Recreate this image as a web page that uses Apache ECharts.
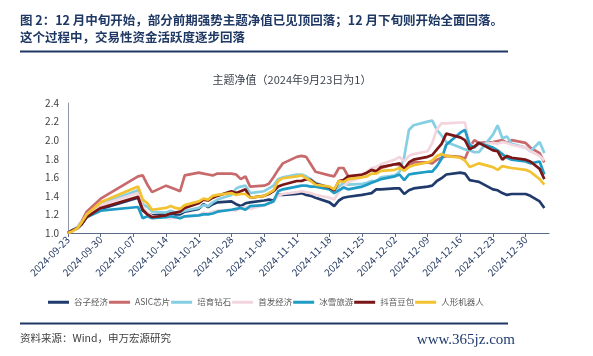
<!DOCTYPE html>
<html>
<head>
<meta charset="utf-8">
<script src="https://cdn.jsdelivr.net/npm/echarts@6/dist/echarts.min.js"></script>
<style>
html,body{margin:0;padding:0;background:#fff;}
#c{width:593px;height:356px;}
</style>
</head>
<body>
<div id="c"></div>
<script>
// ---- Data ----
const dates = [
'2024-09-23','2024-09-24','2024-09-25','2024-09-26','2024-09-27','2024-09-30',
'2024-10-08','2024-10-09','2024-10-10','2024-10-11','2024-10-14','2024-10-15','2024-10-16','2024-10-17','2024-10-18',
'2024-10-21','2024-10-22','2024-10-23','2024-10-24','2024-10-25','2024-10-28','2024-10-29','2024-10-30','2024-10-31','2024-11-01',
'2024-11-04','2024-11-05','2024-11-06','2024-11-07','2024-11-08','2024-11-11','2024-11-12','2024-11-13','2024-11-14','2024-11-15',
'2024-11-18','2024-11-19','2024-11-20','2024-11-21','2024-11-22','2024-11-25','2024-11-26','2024-11-27','2024-11-28','2024-11-29',
'2024-12-02','2024-12-03','2024-12-04','2024-12-05','2024-12-06','2024-12-09','2024-12-10','2024-12-11','2024-12-12','2024-12-13',
'2024-12-16','2024-12-17','2024-12-18','2024-12-19','2024-12-20','2024-12-23','2024-12-24','2024-12-25','2024-12-26','2024-12-27',
'2024-12-30','2024-12-31','2025-01-02','2025-01-03'
];

const guzi = [1.00,1.03,1.05,1.10,1.18,1.26,
1.38,1.24,1.21,1.19,1.20,1.21,1.20,1.20,1.23,
1.26,1.31,1.28,1.31,1.33,1.34,1.31,1.29,1.32,1.33,
1.35,1.36,1.35,1.41,1.41,1.42,1.43,1.41,1.40,1.38,
1.33,1.29,1.35,1.38,1.39,1.41,1.42,1.43,1.47,1.47,
1.48,1.48,1.42,1.46,1.48,1.50,1.51,1.56,1.59,1.63,
1.65,1.64,1.57,1.56,1.55,1.47,1.46,1.43,1.41,1.42,
1.42,1.40,1.34,1.27];

const asic = [1.00,1.03,1.06,1.13,1.23,1.37,
1.61,1.62,1.52,1.44,1.51,1.49,1.47,1.45,1.62,
1.65,1.64,1.63,1.62,1.64,1.64,1.63,1.58,1.61,1.50,
1.51,1.53,1.60,1.68,1.75,1.82,1.83,1.82,1.74,1.66,
1.62,1.61,1.70,1.70,1.61,1.62,1.65,1.68,1.67,1.70,
1.74,1.73,1.68,1.72,1.76,1.76,1.75,1.79,1.81,1.83,
1.82,1.80,1.92,2.00,1.97,1.98,1.99,2.00,1.97,2.00,
1.97,1.92,1.86,1.76];

const zuanshi = [1.00,1.03,1.06,1.12,1.20,1.31,
1.46,1.31,1.28,1.23,1.22,1.24,1.22,1.22,1.24,
1.27,1.30,1.29,1.33,1.36,1.41,1.48,1.50,1.51,1.43,
1.45,1.48,1.51,1.58,1.60,1.63,1.63,1.61,1.58,1.54,
1.49,1.45,1.50,1.54,1.52,1.53,1.54,1.56,1.56,1.60,
1.62,1.66,1.82,2.11,2.16,2.20,2.21,2.11,2.05,1.98,
1.92,1.90,1.89,1.87,1.87,2.06,2.16,2.02,2.04,1.96,
1.92,1.88,1.98,1.86];

const shoufa = [1.00,1.02,1.05,1.11,1.19,1.30,
1.43,1.28,1.22,1.18,1.17,1.16,1.17,1.16,1.18,
1.19,1.22,1.21,1.23,1.24,1.25,1.24,1.27,1.28,1.26,
1.30,1.32,1.34,1.40,1.42,1.44,1.45,1.44,1.43,1.41,
1.38,1.36,1.44,1.50,1.55,1.60,1.66,1.70,1.71,1.74,
1.79,1.82,1.77,1.83,1.85,1.88,1.97,2.12,2.18,2.18,
2.19,2.19,1.96,1.93,1.95,1.97,1.96,1.98,1.97,1.95,
1.92,1.88,1.83,1.78];

const bingxue = [1.00,1.03,1.05,1.10,1.17,1.24,
1.28,1.16,1.18,1.16,1.17,1.18,1.17,1.16,1.18,
1.19,1.20,1.20,1.21,1.23,1.25,1.26,1.27,1.25,1.29,
1.30,1.32,1.34,1.45,1.47,1.50,1.51,1.51,1.50,1.50,
1.47,1.43,1.46,1.49,1.47,1.50,1.52,1.54,1.56,1.58,
1.61,1.63,1.57,1.63,1.64,1.66,1.66,1.72,1.80,1.95,
2.08,2.11,1.95,1.92,1.97,1.92,1.89,1.85,1.81,1.79,
1.77,1.75,1.77,1.63];

const douyin = [1.00,1.03,1.05,1.10,1.17,1.27,
1.39,1.25,1.20,1.17,1.19,1.21,1.22,1.23,1.27,
1.32,1.36,1.35,1.38,1.40,1.45,1.43,1.45,1.47,1.38,
1.40,1.42,1.45,1.50,1.52,1.56,1.56,1.58,1.57,1.53,
1.49,1.46,1.56,1.57,1.61,1.63,1.65,1.68,1.66,1.71,
1.74,1.75,1.69,1.76,1.79,1.82,1.84,1.90,1.96,2.07,
2.03,2.00,1.90,1.93,1.97,1.89,1.88,1.79,1.83,1.81,
1.79,1.77,1.69,1.58];

const jiqiren = [1.00,1.02,1.05,1.12,1.20,1.33,
1.50,1.36,1.32,1.25,1.27,1.29,1.27,1.26,1.30,
1.34,1.37,1.36,1.40,1.41,1.43,1.41,1.42,1.42,1.38,
1.40,1.43,1.46,1.56,1.59,1.61,1.62,1.59,1.56,1.52,
1.50,1.47,1.56,1.55,1.58,1.60,1.61,1.64,1.64,1.67,
1.68,1.70,1.67,1.71,1.73,1.76,1.78,1.83,1.85,1.83,
1.81,1.78,1.71,1.73,1.75,1.71,1.68,1.72,1.71,1.70,
1.68,1.66,1.58,1.52];

const seriesNames = ['谷子经济','ASIC芯片','培育钻石','首发经济','冰雪旅游','抖音豆包','人形机器人'];
const seriesColors = ['#1f3a6b','#c8696b','#86cfe3','#f3d5dd','#1f9cc6','#7a1616','#f2c230'];
const seriesValues = [guzi, asic, zuanshi, shoufa, bingxue, douyin, jiqiren];

const xTickLabels = ['2024-09-23','2024-09-30','2024-10-07','2024-10-14','2024-10-21','2024-10-28','2024-11-04',
'2024-11-11','2024-11-18','2024-11-25','2024-12-02','2024-12-09','2024-12-16','2024-12-23','2024-12-30'];
const yTickLabels = ['1.0','1.2','1.4','1.6','1.8','2.0','2.2','2.4'];

// ---- Helpers ----
function dayNum(s){const p=s.split('-').map(Number);return Date.UTC(p[0],p[1]-1,p[2])/86400000;}
const base = dayNum(xTickLabels[0]);
const xOff = dates.map(d => dayNum(d) - base);
const tickOffsets = xTickLabels.map(d => dayNum(d) - base);
const xMax = dayNum('2025-01-04') - base;

const chart = echarts.init(document.getElementById('c'), null, {renderer:'canvas'});
const navy = '#1f3864';

const option = {
  animation:false,
  backgroundColor:'#ffffff',
  grid:{left:68, right:44, top:103, bottom:123},
  legend:{
    data:seriesNames,
    left:43, top:293,
    icon:'rect', itemWidth:21, itemHeight:3, itemGap:1,
    textStyle:{fontSize:8.5, color:'#595959', fontFamily:'Noto Sans CJK SC'}
  },
  xAxis:{
    type:'value', min:0, max:xMax,
    axisLine:{show:true, lineStyle:{color:'#5b6a82', width:1}},
    axisTick:{show:true, length:4, lineStyle:{color:'#5b6a82'}, customValues:tickOffsets},
    axisLabel:{
      rotate:45, fontSize:10, color:'#2b3f66', margin:5, fontFamily:'Noto Sans CJK SC',
      customValues:tickOffsets,
      formatter:function(v){const i=tickOffsets.indexOf(Math.round(v));return i>=0?xTickLabels[i]:'';}
    },
    splitLine:{show:false}
  },
  yAxis:{
    type:'value', min:1.0, max:2.4, interval:0.2,
    axisLine:{show:true, lineStyle:{color:'#8c96a8', width:1}},
    axisTick:{show:false},
    axisLabel:{fontSize:10, color:'#404040', margin:9, fontFamily:'Noto Sans CJK SC',
      formatter:function(v){const i=Math.round((v-1.0)/0.2);return yTickLabels[i]!==undefined?yTickLabels[i]:'';}},
    splitLine:{show:false}
  },
  series: seriesNames.map((n,k)=>({
    name:n, type:'line', symbol:'none', showSymbol:false,
    lineStyle:{width:2.7, color:seriesColors[k]},
    itemStyle:{color:seriesColors[k]},
    data: seriesValues[k].map((v,i)=>[xOff[i], v])
  })),
  graphic:[
    {type:'text', left:20, top:14, style:{text:'图 2：12 月中旬开始，部分前期强势主题净值已见顶回落；12 月下旬则开始全面回落。', fill:navy, font:'bold 12.5px "Noto Sans CJK SC"'}},
    {type:'text', left:20, top:31, style:{text:'这个过程中，交易性资金活跃度逐步回落', fill:navy, font:'bold 12.5px "Noto Sans CJK SC"'}},
    {type:'line', shape:{x1:20, y1:51.5, x2:508, y2:51.5}, style:{stroke:navy, lineWidth:2}},
    {type:'text', x:292, y:80, style:{text:'主题净值（2024年9月23日为1）', fill:'#3a3f4a', font:'11px "Noto Sans CJK SC"', align:'center', verticalAlign:'middle'}},
    {type:'line', shape:{x1:20, y1:323.5, x2:508, y2:323.5}, style:{stroke:navy, lineWidth:2}},
    {type:'text', x:20, y:338.5, style:{text:'资料来源：Wind，申万宏源研究', fill:'#404040', font:'10.5px "Noto Sans CJK SC"', verticalAlign:'middle'}},
    {type:'text', x:515, y:340, style:{text:'www.365jz.com', fill:'#1f3a6e', font:'15px "Liberation Serif"', align:'right', verticalAlign:'middle'}}
  ]
};
chart.setOption(option);
</script>
</body>
</html>
